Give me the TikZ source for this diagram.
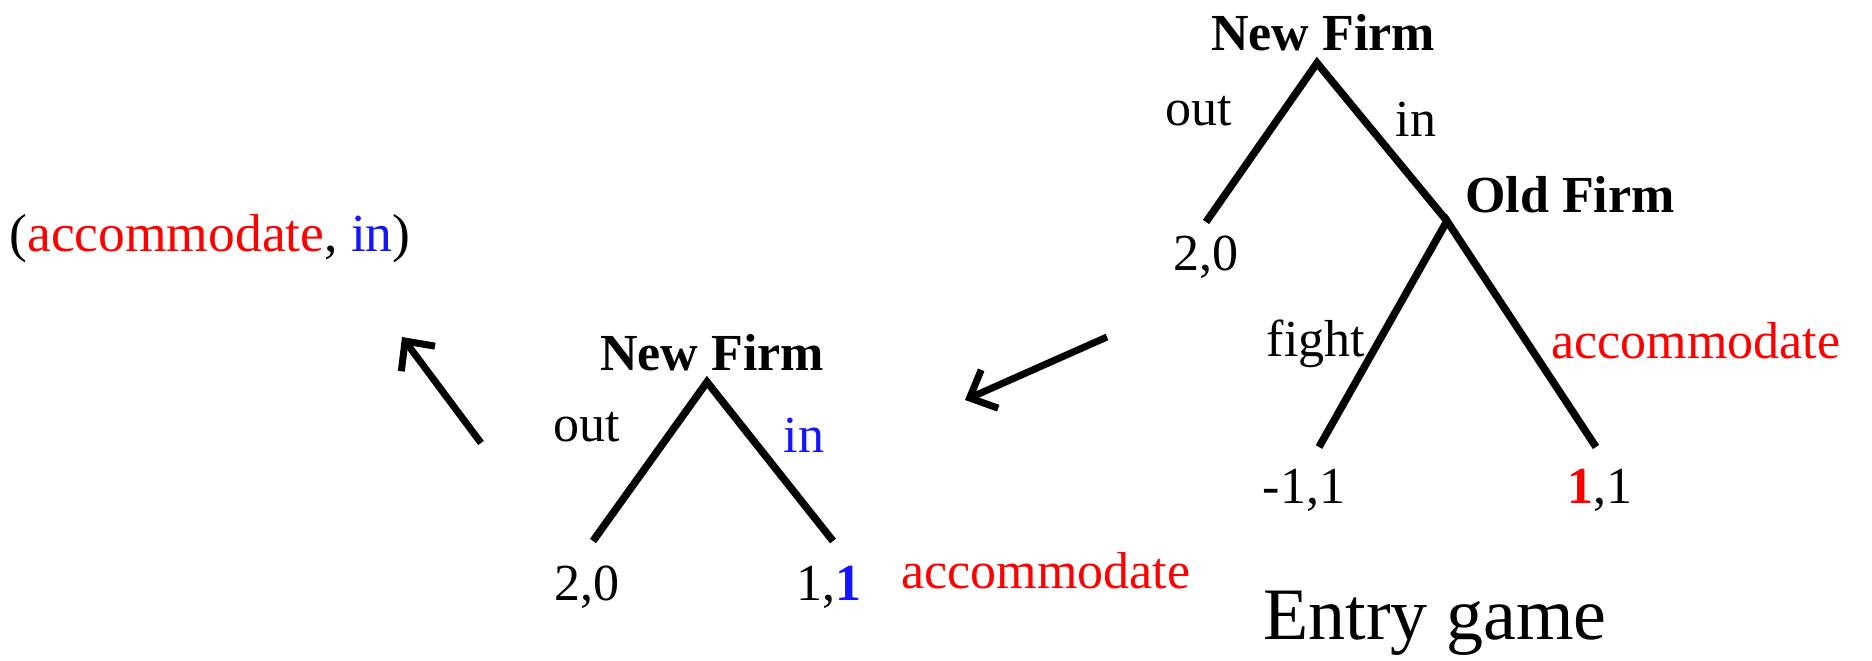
\documentclass[tikz,border=0pt]{standalone}
\usepackage{fontspec}
\setmainfont{Liberation Serif}
\usetikzlibrary{arrows.meta}
\definecolor{myred}{RGB}{255,0,0}
\definecolor{myblue}{RGB}{20,20,255}
\tikzset{
  lbl/.style={inner sep=0pt, font=\fontsize{52}{60}\selectfont},
  blbl/.style={inner sep=0pt, font=\fontsize{52}{60}\selectfont\bfseries},
  branch/.style={line width=7.5pt},
  bigarrow/.style={line width=7pt, -{Straight Barb[length=22pt,width=42pt,line width=7pt]}},
}
\begin{document}
\begin{tikzpicture}[x=1pt,y=-1pt]
\useasboundingbox (0,0) rectangle (1872,661);
% right tree
\coordinate (r0) at (1317,63);
\coordinate (rout) at (1206,222);
\coordinate (r1) at (1447,221);
\coordinate (rfight) at (1319,447);
\coordinate (racc) at (1596,447);
\draw[branch] (rout) -- (r0) -- (r1);
\draw[branch] (rfight) -- (r1) -- (racc);
\node[blbl] (rnf) at (1323,33) {New Firm};
\node[lbl] (rlout) at (1199,111) {out};
\node[lbl] (rlin) at (1416,119) {in};
\node[blbl] (rof) at (1570,195) {Old Firm};
\node[lbl] (rp1) at (1206,257) {2,0};
\node[lbl] (rlfight) at (1316,344) {fight};
\node[lbl, text=myred] (rlacc) at (1696,341) {accommodate};
\node[lbl] (rp2) at (1304,490) {-1,1};
\node[lbl] (rp3) at (1600,490) {\textcolor{myred}{\textbf{1}},1};
\node[inner sep=0pt, font=\fontsize{74}{80}\selectfont] (title) at (1435,623) {Entry game};
% middle tree
\coordinate (m0) at (707,382);
\coordinate (mout) at (593,541);
\coordinate (min) at (833,541);
\draw[branch] (mout) -- (m0) -- (min);
\node[blbl] (mnf) at (712,353) {New Firm};
\node[lbl] (mlout) at (587,427) {out};
\node[lbl, text=myblue] (mlin) at (804,435) {in};
\node[lbl] (mp1) at (587,587) {2,0};
\node[lbl] (mp2) at (829,587) {1,\textcolor{myblue}{\textbf{1}}};
\node[lbl, text=myred] (mlacc) at (1046,571) {accommodate};
% left
\node[inner sep=0pt, font=\fontsize{53.5}{60}\selectfont] (res) at (210,239) {(\textcolor{myred}{accommodate}, \textcolor{myblue}{in})};
% arrows
\coordinate (a1s) at (1107,337);
\coordinate (a1e) at (965,400);
\coordinate (a2s) at (481,443);
\coordinate (a2e) at (402,337);
\draw[bigarrow] (a1s) -- (a1e);
\draw[bigarrow] (a2s) -- (a2e);
\end{tikzpicture}
\end{document}
